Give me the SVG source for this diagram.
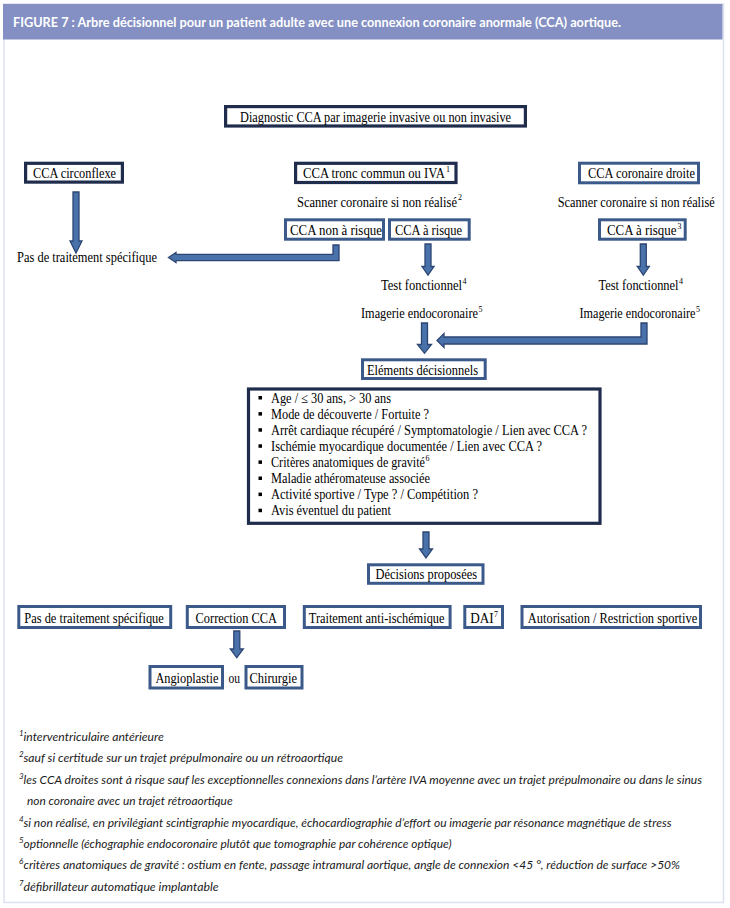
<svg xmlns="http://www.w3.org/2000/svg" width="730" height="908" viewBox="0 0 730 908">
<style>
.t{font-family:"Liberation Serif","Times New Roman",serif;font-size:14px;fill:#000}
.sup{font-family:"Liberation Serif","Times New Roman",serif;font-size:8px;fill:#000}
.b1{fill:#fff;stroke:#1f2c4c;stroke-width:3.2}
.b2{fill:#fff;stroke:#3b5a8a;stroke-width:3}
.arr{fill:#4a72aa;stroke:#2c4673;stroke-width:1.3;stroke-linejoin:miter}
.fn{font-family:Lato,"Open Sans",sans-serif;font-style:italic;font-size:12px;fill:#1a1a1a}
.fs{font-family:Lato,"Open Sans",sans-serif;font-style:italic;font-size:8px;fill:#1a1a1a}
.hd{font-family:Lato,"Open Sans",sans-serif;font-weight:bold;font-size:12.5px;fill:#fff}
.bul{fill:#000}
</style>
<rect x="0" y="0" width="730" height="908" fill="#fff"/>
<rect x="4" y="4" width="719.5" height="898.5" fill="#fff" stroke="#dde1ef" stroke-width="1.5"/>
<g id="header">
<rect x="3" y="4" width="719.5" height="35.5" fill="#8490c3"/>
<text class="hd" x="13" y="26.5" textLength="608" lengthAdjust="spacingAndGlyphs">FIGURE 7 : Arbre décisionnel pour un patient adulte avec une connexion coronaire anormale (CCA) aortique.</text>
</g>
<g id="connectors">
<path class="arr" d="M73,192 H79 V241 H82 L76,253 L70,241 H73 Z"/>
<path class="arr" d="M333,245 H339 V260.7 H176 V262.5 L168.5,257.5 L176,252.5 V254.3 H333 Z"/>
<path class="arr" d="M425,244 H431 V266.5 H434 L428,275 L422,266.5 H425 Z"/>
<path class="arr" d="M640.3,244 H646.3 V266.5 H649.3 L643.3,275 L637.3,266.5 H640.3 Z"/>
<path class="arr" d="M421.5,323 H427.5 V344.5 H431.5 L424.5,353.3 L417.5,344.5 H421.5 Z"/>
<path class="arr" d="M641,323 H647 V344 H444 V347.5 L437,340.5 L444,333.5 V337 H641 Z"/>
<path class="arr" d="M423,532 H429 V549 H432.5 L426,558 L419.5,549 H423 Z"/>
<path class="arr" d="M233.8,631 H239.8 V649 H243.3 L236.8,657.7 L230.3,649 H233.8 Z"/>
</g>
<g id="diagnostic">
<rect class="b1" x="225.6" y="106.6" width="299.8" height="19.4"/>
<text class="t" x="240" y="122" textLength="271" lengthAdjust="spacingAndGlyphs">Diagnostic CCA par imagerie invasive ou non invasive</text>
</g>
<g id="cca-circonflexe">
<rect class="b1" x="25.6" y="163.3" width="96.8" height="18.8"/>
<text class="t" x="33" y="178" textLength="83" lengthAdjust="spacingAndGlyphs">CCA circonflexe</text>
</g>
<g id="cca-tronc">
<rect class="b1" x="295.6" y="163.3" width="160.4" height="19.2"/>
<text class="t" x="303" y="178" textLength="142" lengthAdjust="spacingAndGlyphs">CCA tronc commun ou IVA</text>
<text class="sup" x="446" y="172">1</text>
</g>
<g id="cca-droite">
<rect class="b2" x="579.5" y="163.2" width="119" height="19.6"/>
<text class="t" x="588" y="178" textLength="107" lengthAdjust="spacingAndGlyphs">CCA coronaire droite</text>
</g>
<g id="scanner-gauche">
<text class="t" x="297" y="206.5" textLength="160" lengthAdjust="spacingAndGlyphs">Scanner coronaire si non réalisé</text>
<text class="sup" x="458" y="200">2</text>
</g>
<g id="scanner-droite">
<text class="t" x="557.7" y="206.5" font-size="13" textLength="157" lengthAdjust="spacingAndGlyphs">Scanner coronaire si non réalisé</text>
</g>
<g id="cca-non-risque">
<rect class="b2" x="285.5" y="219.8" width="98" height="19.4"/>
<text class="t" x="290" y="235" textLength="92" lengthAdjust="spacingAndGlyphs">CCA non à risque</text>
</g>
<g id="cca-risque">
<rect class="b2" x="389.5" y="219.8" width="79.7" height="19.4"/>
<text class="t" x="395" y="235" textLength="67" lengthAdjust="spacingAndGlyphs">CCA à risque</text>
</g>
<g id="cca-risque-droite">
<rect class="b2" x="599.5" y="219.8" width="85.7" height="19.4"/>
<text class="t" x="607" y="235" textLength="69.5" lengthAdjust="spacingAndGlyphs">CCA à risque</text>
<text class="sup" x="677.5" y="229">3</text>
</g>
<g id="pas-traitement-1">
<text class="t" x="17" y="262" textLength="140" lengthAdjust="spacingAndGlyphs">Pas de traitement spécifique</text>
</g>
<g id="test-gauche">
<text class="t" x="381" y="290" textLength="81" lengthAdjust="spacingAndGlyphs">Test fonctionnel</text>
<text class="sup" x="462.5" y="284">4</text>
<text class="t" x="361" y="318" textLength="117" lengthAdjust="spacingAndGlyphs">Imagerie endocoronaire</text>
<text class="sup" x="478.5" y="312">5</text>
</g>
<g id="test-droite">
<text class="t" x="598.5" y="290" textLength="80" lengthAdjust="spacingAndGlyphs">Test fonctionnel</text>
<text class="sup" x="679" y="284">4</text>
<text class="t" x="579.5" y="318" textLength="116" lengthAdjust="spacingAndGlyphs">Imagerie endocoronaire</text>
<text class="sup" x="696" y="312">5</text>
</g>
<g id="elements">
<rect class="b2" x="362.5" y="359.8" width="122.7" height="18.7"/>
<text class="t" x="367" y="374.5" textLength="111" lengthAdjust="spacingAndGlyphs">Eléments décisionnels</text>
</g>
<g id="liste">
<rect class="b1" x="248.5" y="389" width="351.5" height="134.3" stroke-width="3.5"/>
<rect class="bul" x="258.5" y="396" width="3.5" height="3.5"/>
<rect class="bul" x="258.5" y="412.1" width="3.5" height="3.5"/>
<rect class="bul" x="258.5" y="428.2" width="3.5" height="3.5"/>
<rect class="bul" x="258.5" y="444.3" width="3.5" height="3.5"/>
<rect class="bul" x="258.5" y="460.4" width="3.5" height="3.5"/>
<rect class="bul" x="258.5" y="476.5" width="3.5" height="3.5"/>
<rect class="bul" x="258.5" y="492.6" width="3.5" height="3.5"/>
<rect class="bul" x="258.5" y="508.7" width="3.5" height="3.5"/>
<text class="t" x="271" y="402.5" textLength="120" lengthAdjust="spacingAndGlyphs">Age / ≤ 30 ans, &gt; 30 ans</text>
<text class="t" x="271" y="418.6" textLength="158" lengthAdjust="spacingAndGlyphs">Mode de découverte / Fortuite ?</text>
<text class="t" x="271" y="434.7" textLength="316" lengthAdjust="spacingAndGlyphs">Arrêt cardiaque récupéré / Symptomatologie / Lien avec CCA ?</text>
<text class="t" x="271" y="450.8" textLength="271" lengthAdjust="spacingAndGlyphs">Ischémie myocardique documentée / Lien avec CCA ?</text>
<text class="t" x="271" y="466.9" textLength="154" lengthAdjust="spacingAndGlyphs">Critères anatomiques de gravité</text>
<text class="sup" x="425.5" y="461">6</text>
<text class="t" x="271" y="483" textLength="159" lengthAdjust="spacingAndGlyphs">Maladie athéromateuse associée</text>
<text class="t" x="271" y="499.1" textLength="207" lengthAdjust="spacingAndGlyphs">Activité sportive / Type ? / Compétition ?</text>
<text class="t" x="271" y="515.2" textLength="120" lengthAdjust="spacingAndGlyphs">Avis éventuel du patient</text>
</g>
<g id="decisions">
<rect class="b2" x="368.5" y="564.8" width="114.5" height="18.5"/>
<text class="t" x="375.5" y="579" textLength="101.5" lengthAdjust="spacingAndGlyphs">Décisions proposées</text>
</g>
<g id="pas-traitement-2">
<rect class="b2" x="18.8" y="606.5" width="151.9" height="21"/>
<text class="t" x="24.3" y="622.5" textLength="139.5" lengthAdjust="spacingAndGlyphs">Pas de traitement spécifique</text>
</g>
<g id="correction">
<rect class="b2" x="187.3" y="606.5" width="97.2" height="21"/>
<text class="t" x="195.6" y="622.5" textLength="81.4" lengthAdjust="spacingAndGlyphs">Correction CCA</text>
</g>
<g id="anti-ischemique">
<rect class="b2" x="304.3" y="606.5" width="145.8" height="21"/>
<text class="t" x="308.8" y="622.5" textLength="135.7" lengthAdjust="spacingAndGlyphs">Traitement anti-ischémique</text>
</g>
<g id="dai">
<rect class="b2" x="464.8" y="606.5" width="37.7" height="21"/>
<text class="t" x="470.3" y="622.5" textLength="23.4" lengthAdjust="spacingAndGlyphs">DAI</text>
<text class="sup" x="494" y="616.5">7</text>
</g>
<g id="autorisation">
<rect class="b2" x="522" y="606.5" width="178.5" height="21"/>
<text class="t" x="527.8" y="622.5" textLength="169.4" lengthAdjust="spacingAndGlyphs">Autorisation / Restriction sportive</text>
</g>
<g id="angioplastie">
<rect class="b2" x="150" y="666.5" width="72.5" height="21.5"/>
<text class="t" x="155.4" y="683" textLength="63" lengthAdjust="spacingAndGlyphs">Angioplastie</text>
</g>
<g id="ou">
<text class="t" x="228.4" y="683" textLength="11.5" lengthAdjust="spacingAndGlyphs">ou</text>
</g>
<g id="chirurgie">
<rect class="b2" x="246" y="666.5" width="56" height="21.5"/>
<text class="t" x="249.4" y="683" textLength="47.7" lengthAdjust="spacingAndGlyphs">Chirurgie</text>
</g>
<g id="notes">
<text class="fs" x="19" y="736">1</text>
<text class="fn" x="23.5" y="741" textLength="140.3" lengthAdjust="spacingAndGlyphs">interventriculaire antérieure</text>
<text class="fs" x="19" y="757.4">2</text>
<text class="fn" x="23.5" y="762.4" textLength="319.5" lengthAdjust="spacingAndGlyphs">sauf si certitude sur un trajet prépulmonaire ou un rétroaortique</text>
<text class="fs" x="19" y="778.8">3</text>
<text class="fn" x="23.5" y="783.8" textLength="678.5" lengthAdjust="spacingAndGlyphs">les CCA droites sont à risque sauf les exceptionnelles connexions dans l’artère IVA moyenne avec un trajet prépulmonaire ou dans le sinus</text>
<text class="fn" x="27" y="805.2" textLength="205.6" lengthAdjust="spacingAndGlyphs">non coronaire avec un trajet rétroaortique</text>
<text class="fs" x="19" y="821.6">4</text>
<text class="fn" x="23.5" y="826.6" textLength="648" lengthAdjust="spacingAndGlyphs">si non réalisé, en privilégiant scintigraphie myocardique, échocardiographie d’effort ou imagerie par résonance magnétique de stress</text>
<text class="fs" x="19" y="843">5</text>
<text class="fn" x="23.5" y="848" textLength="428" lengthAdjust="spacingAndGlyphs">optionnelle (échographie endocoronaire plutôt que tomographie par cohérence optique)</text>
<text class="fs" x="19" y="864.4">6</text>
<text class="fn" x="23.5" y="869.4" textLength="656.5" lengthAdjust="spacingAndGlyphs">critères anatomiques de gravité : ostium en fente, passage intramural aortique, angle de connexion &lt;45 °, réduction de surface &gt;50%</text>
<text class="fs" x="19" y="885.8">7</text>
<text class="fn" x="23.5" y="890.8" textLength="195" lengthAdjust="spacingAndGlyphs">défibrillateur automatique implantable</text>
</g>
</svg>
